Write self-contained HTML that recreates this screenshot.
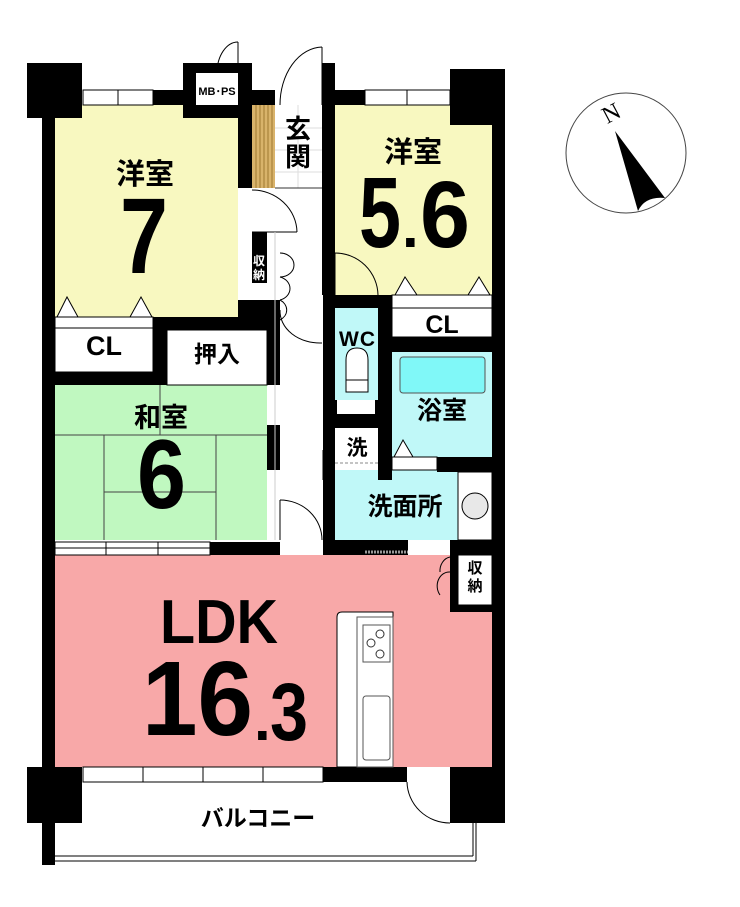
<!DOCTYPE html>
<html><head><meta charset="utf-8"><style>
html,body{margin:0;padding:0;background:#fff;}
svg{display:block}
text{font-family:"Liberation Sans","Noto Sans CJK JP",sans-serif;font-weight:bold;fill:#000}
</style></head><body>
<svg width="740" height="907" viewBox="0 0 740 907" xmlns="http://www.w3.org/2000/svg">
<rect x="55" y="105" width="183" height="212" fill="#f8f8c0"/>
<rect x="335" y="105" width="157" height="190" fill="#f8f8c0"/>
<rect x="55" y="385" width="212" height="155" fill="#c0f8c0"/>
<rect x="335" y="308" width="43" height="92" fill="#c0f8f8"/>
<rect x="392" y="352" width="100" height="105" fill="#c0f8f8"/>
<rect x="400" y="357" width="85" height="36" rx="3" fill="#80f8f8" stroke="#555" stroke-width="1"/>
<rect x="335" y="470" width="123" height="70" fill="#c0f8f8"/>
<rect x="55" y="555" width="437" height="212" fill="#f8a8a8"/>
<g stroke="#444" stroke-width="1" fill="none">
<line x1="55" y1="435" x2="267" y2="435"/>
<line x1="160" y1="385" x2="160" y2="435"/>
<line x1="104" y1="435" x2="104" y2="540"/>
<line x1="216" y1="435" x2="216" y2="540"/>
<line x1="104" y1="492" x2="216" y2="492"/>
</g>
<rect x="252" y="105" width="23" height="83" fill="#d9b36b"/>
<g stroke="#a07830" stroke-width="1"><line x1="256" y1="105" x2="256" y2="188"/><line x1="260" y1="105" x2="260" y2="188"/><line x1="264" y1="105" x2="264" y2="188"/><line x1="268" y1="105" x2="268" y2="188"/><line x1="272" y1="105" x2="272" y2="188"/></g>
<g stroke="#ddd" stroke-width="1"><line x1="275" y1="128" x2="322" y2="128"/><line x1="275" y1="150" x2="322" y2="150"/><line x1="275" y1="172" x2="322" y2="172"/><line x1="298" y1="105" x2="298" y2="188"/></g>
<line x1="275" y1="188" x2="322" y2="188" stroke="#333"/>
<g fill="#000">
<rect x="27" y="63" width="55" height="55"/>
<rect x="42" y="118" width="13" height="747"/>
<rect x="153" y="90" width="30" height="15"/>
<rect x="183" y="63" width="69" height="55"/>
<rect x="238" y="118" width="14" height="70"/>
<rect x="252" y="90" width="23" height="15"/>
<rect x="322" y="63" width="13" height="232"/>
<rect x="335" y="90" width="30" height="15"/>
<rect x="450" y="69" width="55" height="56"/>
<rect x="492" y="125" width="13" height="642"/>
<rect x="252" y="232" width="15" height="85"/>
<rect x="238" y="300" width="42" height="17"/>
<rect x="153" y="317" width="127" height="13"/>
<rect x="153" y="317" width="14" height="68"/>
<rect x="55" y="372" width="112" height="13"/>
<rect x="267" y="317" width="13" height="68"/>
<rect x="267" y="425" width="13" height="45" />
<rect x="210" y="542" width="70" height="13"/>
<rect x="323" y="295" width="69" height="13"/>
<rect x="323" y="308" width="12" height="247"/>
<rect x="378" y="295" width="14" height="185"/>
<rect x="335" y="400" width="43" height="28" />
<rect x="392" y="337" width="100" height="15"/>
<rect x="437" y="457" width="55" height="15"/>
<rect x="323" y="540" width="85" height="15"/>
<rect x="450" y="540" width="55" height="15"/>
<rect x="450" y="555" width="55" height="57"/>
<rect x="337" y="690" width="20" height="90"/>
<rect x="27" y="767" width="55" height="56"/>
<rect x="323" y="767" width="84" height="15"/>
<rect x="450" y="767" width="55" height="56"/>
</g>
<rect x="196" y="73" width="42" height="32" fill="#fff"/>
<rect x="337" y="400" width="38" height="14" fill="#fff"/>
<rect x="458" y="555" width="34" height="50" fill="#fff" stroke="#000"/>
<rect x="252" y="250" width="15" height="33" fill="#000"/>
<rect x="252" y="283" width="15" height="17" fill="#fff"/>
<g fill="#fff" stroke="#000" stroke-width="1">
<rect x="83" y="90" width="70" height="15"/>
<rect x="365" y="90" width="85" height="15"/>
<rect x="55" y="542" width="155" height="13"/>
<rect x="83" y="767" width="240" height="15"/>
</g>
<g stroke="#000" stroke-width="1">
<line x1="118" y1="90" x2="118" y2="105"/><line x1="407" y1="90" x2="407" y2="105"/>
<line x1="106" y1="542" x2="106" y2="555"/><line x1="158" y1="542" x2="158" y2="555"/>
<line x1="143" y1="767" x2="143" y2="782"/><line x1="203" y1="767" x2="203" y2="782"/><line x1="263" y1="767" x2="263" y2="782"/>
<line x1="55" y1="548" x2="210" y2="548"/>
</g>
<rect x="55" y="317" width="98" height="55" fill="#fff" stroke="#000"/>
<line x1="55" y1="328" x2="153" y2="328" stroke="#000"/>
<rect x="167" y="330" width="100" height="55" fill="#fff" stroke="#000"/>
<rect x="392" y="308" width="100" height="29" fill="#fff" stroke="#000"/>
<rect x="392" y="295" width="100" height="13" fill="#fff" stroke="#000"/>
<rect x="335" y="428" width="43" height="35" fill="#fff"/>
<line x1="335" y1="463" x2="378" y2="463" stroke="#888" stroke-dasharray="3,2"/>
<rect x="392" y="457" width="45" height="13" fill="#fff" stroke="#000"/>
<rect x="458" y="472" width="34" height="68" fill="#fff" stroke="#000"/>
<circle cx="475" cy="506" r="13" fill="#e8e8e8" stroke="#000"/>
<g fill="#fff" stroke="#000" stroke-width="1">
<polygon points="57,317 67,297 78,317"/><polygon points="130,317 141,297 152,317"/>
<polygon points="395,295 405,277 417,295"/><polygon points="468,295 479,277 490,295"/>
<polygon points="394,457 403,440 413,457"/>
</g>
<path d="M346,392 L346,360 Q346,348 357,348 Q368,348 368,360 L368,392 Z" fill="#fff" stroke="#000"/>
<line x1="346" y1="380" x2="368" y2="380" stroke="#000"/>
<g fill="none" stroke="#000" stroke-width="1">
<path d="M238,42 A21,31 0 0 0 217,73"/><line x1="238" y1="42" x2="238" y2="73"/>
<path d="M322,47 A43,58 0 0 0 280,105"/><line x1="322" y1="47" x2="322" y2="105"/>
<path d="M252,190 A45,43 0 0 1 297,232"/><line x1="252" y1="232" x2="297" y2="232"/>
<path d="M280,253 A14,12 0 0 1 280,277 M280,277 A14,12 0 0 1 280,300"/>
<path d="M280,300 A15,12 0 0 1 280,320"/>
<path d="M280,310 A40,32 0 0 0 322,343"/>
<path d="M335,253 A43,43 0 0 1 378,295"/><line x1="335" y1="253" x2="335" y2="295"/>
<path d="M280,500 A42,40 0 0 1 322,540"/><line x1="280" y1="500" x2="280" y2="540"/>
<path d="M450,557 A12,14 0 0 0 440,572 M450,572 A12,14 0 0 0 440,595"/>
<path d="M407,782 A43,42 0 0 0 450,823"/>
<line x1="275" y1="232" x2="275" y2="540" stroke="#ccc"/>
<line x1="323" y1="450" x2="323" y2="480" stroke="#000"/>
</g>
<line x1="365" y1="552" x2="408" y2="552" stroke="#999" stroke-dasharray="2,1" stroke-width="3"/>
<path d="M337,767 L337,617 Q337,612 342,612 L393,612 L393,767 Z" fill="#fff" stroke="#000"/>
<rect x="357" y="617" width="36" height="150" fill="#fff" stroke="#555"/>
<rect x="363" y="625" width="27" height="37" fill="#fff" stroke="#555"/>
<circle cx="380" cy="634" r="4" fill="none" stroke="#333"/><circle cx="371" cy="643" r="4" fill="none" stroke="#333"/><circle cx="380" cy="654" r="4" fill="none" stroke="#333"/>
<rect x="363" y="696" width="27" height="64" rx="3" fill="#fff" stroke="#555"/>
<g fill="none" stroke="#000" stroke-width="1">
<line x1="55" y1="856" x2="473" y2="856"/><line x1="55" y1="861" x2="476" y2="861"/>
<line x1="473" y1="823" x2="473" y2="856"/><line x1="476" y1="823" x2="476" y2="861"/>
</g>
<circle cx="626" cy="153" r="60" fill="#fff" stroke="#444"/>
<path d="M615,131 L665,198 Q645,196 638,211 Z" fill="#000"/>
<text x="604" y="125" font-size="24" style="font-family:'Liberation Serif',serif;font-weight:normal" transform="rotate(-28 604 118)">N</text>
<text x="145" y="184" font-size="29" text-anchor="middle">洋室</text>
<text x="120" y="273" font-size="108" textLength="48" lengthAdjust="spacingAndGlyphs">7</text>
<text x="413" y="162" font-size="29" text-anchor="middle">洋室</text>
<text x="359" y="247" font-size="100" textLength="42" lengthAdjust="spacingAndGlyphs">5</text>
<text x="402" y="247" font-size="60">.</text>
<text x="420" y="247" font-size="95" textLength="50" lengthAdjust="spacingAndGlyphs">6</text>
<text x="298" y="138" font-size="26" text-anchor="middle">玄</text>
<text x="298" y="166" font-size="26" text-anchor="middle">関</text>
<text x="217" y="95" font-size="11" text-anchor="middle">MB･PS</text>
<text x="259" y="265" font-size="12" text-anchor="middle" style="fill:#fff">収</text>
<text x="259" y="279" font-size="12" text-anchor="middle" style="fill:#fff">納</text>
<text x="104" y="355" font-size="27" text-anchor="middle">CL</text>
<text x="217" y="362" font-size="23" text-anchor="middle">押入</text>
<text x="161" y="427" font-size="27" text-anchor="middle">和室</text>
<text x="137" y="508" font-size="98" textLength="49" lengthAdjust="spacingAndGlyphs">6</text>
<text x="357" y="346" font-size="21" text-anchor="middle" textLength="36">WC</text>
<text x="442" y="333" font-size="25" text-anchor="middle">CL</text>
<text x="442" y="419" font-size="25" text-anchor="middle">浴室</text>
<text x="357" y="455" font-size="21" text-anchor="middle">洗</text>
<text x="405" y="515" font-size="25" text-anchor="middle">洗面所</text>
<text x="475" y="573" font-size="15" text-anchor="middle">収</text>
<text x="475" y="591" font-size="15" text-anchor="middle">納</text>
<text x="160" y="643" font-size="62" textLength="118" lengthAdjust="spacingAndGlyphs">LDK</text>
<text x="142" y="735" font-size="106" textLength="111" lengthAdjust="spacingAndGlyphs">16</text>
<text x="254" y="740" font-size="60">.</text>
<text x="270" y="740" font-size="82" textLength="38" lengthAdjust="spacingAndGlyphs">3</text>
<text x="258" y="826" font-size="23" text-anchor="middle">バルコニー</text>
</svg>
</body></html>
